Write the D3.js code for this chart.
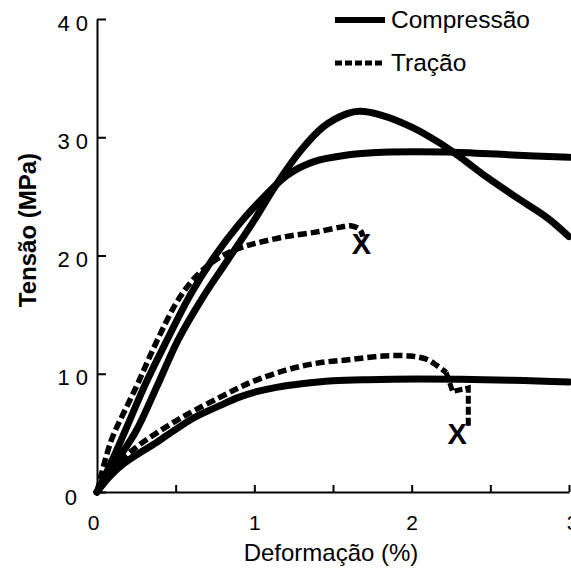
<!DOCTYPE html>
<html>
<head>
<meta charset="utf-8">
<script src="https://cdn.jsdelivr.net/npm/d3@7"></script>
<style>
  body { margin: 0; background: #fff; }
  svg text { font-family: "Liberation Sans", Arial, Helvetica, sans-serif; fill: #000; }
</style>
</head>
<body>
<svg id="chart" width="571" height="569"></svg>
<script>
// DATA (strain %, stress MPa)
const compPeak = [[0,0],[0.12,2.5],[0.25,5.2],[0.38,8.9],[0.515,12.85],[0.67,16.4],[0.83,19.6],[1.0,23.0],[1.14,26.0],[1.29,28.8],[1.44,30.9],[1.59,32.0],[1.67,32.2],[1.8,31.9],[2.01,30.8],[2.18,29.5],[2.31,28.3],[2.48,26.6],[2.69,24.7],[2.86,23.2],[3.0,21.6]];
const compPlateau = [[0,0],[0.08,2.2],[0.18,5.2],[0.31,9.2],[0.445,12.85],[0.59,16.6],[0.73,19.6],[0.9,22.6],[1.05,24.8],[1.21,26.8],[1.37,27.9],[1.59,28.5],[1.86,28.75],[2.22,28.75],[2.64,28.5],[3.0,28.3]];
const compLow = [[0,0],[0.08,1.3],[0.17,2.4],[0.27,3.3],[0.38,4.2],[0.5,5.3],[0.62,6.3],[0.78,7.3],[0.9,8.0],[1.02,8.5],[1.14,8.85],[1.3,9.15],[1.5,9.4],[1.72,9.5],[2.03,9.55],[2.64,9.45],[3.0,9.3]];
const tracHigh = [[0,0],[0.05,2.6],[0.1,4.7],[0.17,6.7],[0.25,8.9],[0.32,11.0],[0.4,13.3],[0.5,15.9],[0.6,17.8],[0.7,19.1],[0.8,20.0],[0.9,20.6],[1.0,21.0],[1.2,21.6],[1.4,22.0],[1.55,22.4],[1.62,22.5],[1.67,22.2],[1.69,21.6]];
const tracLow = [[0,0],[0.06,1.5],[0.17,2.9],[0.27,4.0],[0.38,5.0],[0.5,6.0],[0.62,6.9],[0.78,8.0],[0.9,8.8],[1.0,9.4],[1.2,10.3],[1.4,10.9],[1.61,11.2],[1.82,11.5],[1.99,11.5],[2.1,11.2],[2.16,10.7],[2.22,10.1]];
const tracLowTail = [[2.22,10.1],[2.26,8.5],[2.36,8.8],[2.36,5.5]];
const breakPoints = [[1.68, 21.0], [2.29, 4.9]];
const xTicks = [0, 0.5, 1, 1.5, 2, 2.5, 3];
const yTicks = [0, 10, 20, 30, 40];
const legendLabels = ["Compressão", "Tração"];

const svg = d3.select('#chart');
const x = d3.scaleLinear().domain([0, 3]).range([97, 569]);
const y = d3.scaleLinear().domain([0, 40]).range([492, 19]);

// AXES
let yAxis = svg.append('g')
                .attr('transform', `translate(${x(0)},0)`)
                .call(d3.axisLeft(y).tickValues(yTicks).tickSize(-9).tickSizeOuter(0).tickPadding(9)
                        .tickFormat(d => d === 0 ? '0' : String(d).split('').join(' ')));
    yAxis.selectAll('text')
            .attr('font-size', 22)
            .attr('font-family', null)
            .attr('transform', d => d === 0 ? 'translate(-11,5)' : 'translate(0,4)');

let xAxis = svg.append('g')
                .attr('transform', `translate(0,${y(0)})`)
                .call(d3.axisBottom(x).tickValues(xTicks).tickSize(-7).tickSizeOuter(0).tickPadding(23)
                        .tickFormat(d => Number.isInteger(d) ? d : ''));
    xAxis.selectAll('text')
            .attr('font-size', 21)
            .attr('font-family', null)
            .attr('transform', d => d === 0 ? 'translate(-4,0)' : (d === 3 ? 'translate(3,0)' : null));

svg.selectAll('.domain, .tick line').attr('stroke', '#000').attr('stroke-width', 2);

svg.append('text')
    .attr('x', 331)
    .attr('y', 561)
    .attr('text-anchor', 'middle')
    .attr('font-size', 24)
    .text('Deformação (%)');
svg.append('text')
    .attr('transform', 'translate(36,230) rotate(-90)')
    .attr('text-anchor', 'middle')
    .attr('font-size', 24)
    .attr('font-weight', 'bold')
    .text('Tensão (MPa)');

// CURVES
const line = d3.line()
                .x(d => x(d[0]))
                .y(d => y(d[1]))
                .curve(d3.curveCatmullRom.alpha(0.5));
const lineStep = d3.line()
                .x(d => x(d[0]))
                .y(d => y(d[1]));

[compPeak, compPlateau, compLow].forEach(s => {
  svg.append('path')
      .attr('d', line(s))
      .attr('fill', 'none')
      .attr('stroke', '#000')
      .attr('stroke-width', 7)
      .attr('stroke-linejoin', 'round')
      .attr('stroke-linecap', 'round');
});
[tracHigh, tracLow].forEach(s => {
  svg.append('path')
      .attr('d', line(s))
      .attr('fill', 'none')
      .attr('stroke', '#000')
      .attr('stroke-width', 5.5)
      .attr('stroke-dasharray', '9,4');
});
svg.append('path')
    .attr('d', lineStep(tracLowTail))
    .attr('fill', 'none')
    .attr('stroke', '#000')
    .attr('stroke-width', 5)
    .attr('stroke-dasharray', '8,3');

svg.selectAll('text.break')
    .data(breakPoints)
    .enter()
  .append('text')
    .attr('class', 'break')
    .attr('x', d => x(d[0]))
    .attr('y', d => y(d[1]))
    .attr('dy', '0.36em')
    .attr('text-anchor', 'middle')
    .attr('font-size', 29)
    .attr('font-weight', 'bold')
    .text('X');

// LEGEND
let legend = svg.append('g');
    legend.append('line')
            .attr('x1', 335).attr('x2', 385)
            .attr('y1', 20).attr('y2', 20)
            .attr('stroke', '#000')
            .attr('stroke-width', 6);
    legend.append('line')
            .attr('x1', 335).attr('x2', 382)
            .attr('y1', 63).attr('y2', 63)
            .attr('stroke', '#000')
            .attr('stroke-width', 5)
            .attr('stroke-dasharray', '7,3');
    legend.selectAll('text')
            .data(legendLabels)
            .enter()
          .append('text')
            .attr('x', 391)
            .attr('y', (d, i) => i === 0 ? 28 : 71)
            .attr('font-size', 24.5)
            .text(d => d);
</script>
</body>
</html>
